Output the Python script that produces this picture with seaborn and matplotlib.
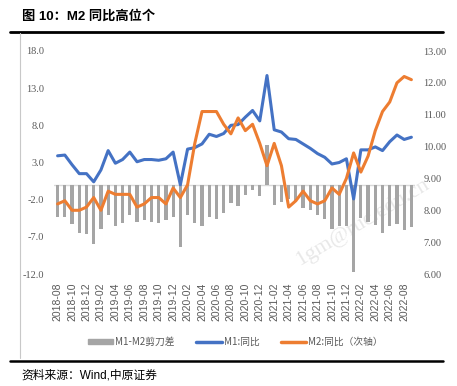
import numpy as np
import pandas as pd
import seaborn as sns
import matplotlib.pyplot as plt
import matplotlib.ticker as ticker
from matplotlib.lines import Line2D
from matplotlib.patches import Patch

# data: 2018-08 .. 2022-09 (monthly)
months = pd.date_range('2018-08-01', '2022-09-01', freq='MS').strftime('%Y-%m').tolist()

m1_yoy = [3.9, 4.0, 2.7, 1.5, 1.5, 0.4, 2.0, 4.6, 2.9, 3.4,
          4.4, 3.1, 3.4, 3.4, 3.3, 3.5, 4.4, 0.0, 4.8, 5.0,
          5.5, 6.8, 6.5, 6.9, 8.0, 8.1, 9.1, 10.0, 8.6, 14.7,
          7.4, 7.1, 6.2, 6.1, 5.5, 4.9, 4.2, 3.7, 2.8, 3.0,
          3.5, -1.9, 4.7, 4.7, 5.1, 4.6, 5.8, 6.7, 6.1, 6.4]

m2_yoy = [8.2, 8.3, 8.0, 8.0, 8.1, 8.4, 8.0, 8.6, 8.5, 8.5,
          8.5, 8.1, 8.2, 8.4, 8.4, 8.2, 8.7, 8.4, 8.8, 10.1,
          11.1, 11.1, 11.1, 10.7, 10.4, 10.9, 10.5, 10.7, 10.1, 9.4,
          10.1, 9.4, 8.1, 8.3, 8.6, 8.3, 8.2, 8.3, 8.7, 8.5,
          9.0, 9.8, 9.2, 9.7, 10.5, 11.1, 11.4, 12.0, 12.2, 12.1]

scissors = [-4.3, -4.3, -5.3, -6.5, -6.6, -8.0, -6.0, -4.0, -5.6, -5.1,
            -4.1, -5.0, -4.8, -5.0, -5.1, -4.7, -4.3, -8.4, -4.0, -5.1,
            -5.6, -4.3, -4.6, -3.8, -2.4, -2.8, -1.4, -0.7, -1.5, 5.3,
            -2.7, -2.3, -1.9, -2.2, -3.1, -3.4, -4.0, -4.6, -5.9, -5.5,
            -5.5, -11.7, -4.5, -5.0, -5.4, -6.5, -5.6, -5.3, -6.1, -5.7]

left_ticks = [-12.0, -7.0, -2.0, 3.0, 8.0, 13.0, 18.0]
right_ticks = [6, 7, 8, 9, 10, 11, 12, 13]

df = pd.DataFrame({'month': months, 'pos': np.arange(len(months)),
                   'm1': m1_yoy, 'm2': m2_yoy, 'gap': scissors})

c_gray = '#A5A5A5'
c_blue = '#4472C4'
c_orange = '#ED7D31'
c_text = '#595959'

sns.set_theme(style='white')
plt.rcParams['font.family'] = ['Liberation Sans', 'Noto Sans CJK SC', 'DejaVu Sans']

fig = plt.figure(figsize=(4.57, 3.86), dpi=100)
ax = fig.add_axes([54 / 457, 112 / 386, 361 / 457, 223 / 386])

sns.barplot(data=df, x='month', y='gap', color=c_gray, saturation=1,
            width=0.45, linewidth=0, ax=ax, zorder=2)
ax.axhline(0, color='#D9D9D9', lw=1, zorder=1)
sns.lineplot(data=df, x='pos', y='m1', color=c_blue, lw=2.2, ax=ax, zorder=3)

ax2 = ax.twinx()
sns.lineplot(data=df, x='pos', y='m2', color=c_orange, lw=2.2, ax=ax2, zorder=3)

ax.set_xlim(-0.5, len(months) - 0.5)
ax.set_ylim(-12, 18)
ax2.set_ylim(6, 13)
ax.set_yticks(left_ticks)
ax.yaxis.set_major_formatter(ticker.FormatStrFormatter('%.1f'))
ax2.set_yticks(right_ticks)
ax2.yaxis.set_major_formatter(ticker.FormatStrFormatter('%.2f'))

ax.set_xticks(range(0, len(months), 2))
ax.set_xticklabels(months[::2], rotation=90, fontsize=7.5, color=c_text)
ax.set_xlabel('')
ax.set_ylabel('')
ax2.set_ylabel('')

for a in (ax, ax2):
    for s in a.spines.values():
        s.set_visible(False)
    a.grid(False)
    a.patch.set_alpha(0)
ax.tick_params(axis='x', length=0, pad=6)
ax.tick_params(axis='y', length=0, pad=7, labelsize=7.5, labelcolor=c_text)
ax2.tick_params(axis='y', length=0, pad=6, labelsize=7.5, labelcolor=c_text)
for lab in ax.get_yticklabels() + ax2.get_yticklabels():
    lab.set_family('Liberation Serif')

handles = [Patch(color=c_gray),
           Line2D([], [], color=c_blue, lw=2.5),
           Line2D([], [], color=c_orange, lw=2.5)]
labels = ['M1-M2剪刀差', 'M1:同比', 'M2:同比（次轴）']
fig.legend(handles, labels, loc='center', bbox_to_anchor=(0.515, 1 - 342 / 386),
           ncol=3, frameon=False, labelcolor=c_text,
           handlelength=2.6, handleheight=0.5, columnspacing=2.2, handletextpad=0.2,
           prop={'family': ['Noto Sans CJK SC'], 'size': 7})

# title, rules and source
fig.text(22 / 457, 1 - 16 / 386, '图 10：M2 同比高位个', fontsize=9.5,
         fontweight='bold', va='center', ha='left', color='black')
fig.add_artist(Line2D([10 / 457, 443 / 457], [1 - 31.5 / 386] * 2, color='black', lw=2))
fig.add_artist(Line2D([10 / 457, 443 / 457], [1 - 361 / 386] * 2, color='black', lw=1.8))
fig.add_artist(Line2D([20 / 457, 20 / 457], [1 - 33 / 386, 1 - 358 / 386],
                      color='#C8C8C8', lw=0.8))
fig.text(21 / 457, 1 - 376 / 386, '资料来源：Wind,中原证券', fontsize=8.5,
         va='center', ha='left', color='black')

# watermark (behind the chart)
fig.text(302 / 457, 1 - 270 / 386, '1gm@ruc.edu.cn', fontsize=16, rotation=31,
         rotation_mode='anchor', color='#E8E8E8', family='Liberation Serif',
         ha='left', va='bottom', zorder=-1)

fig.savefig('out.png', dpi=100)
